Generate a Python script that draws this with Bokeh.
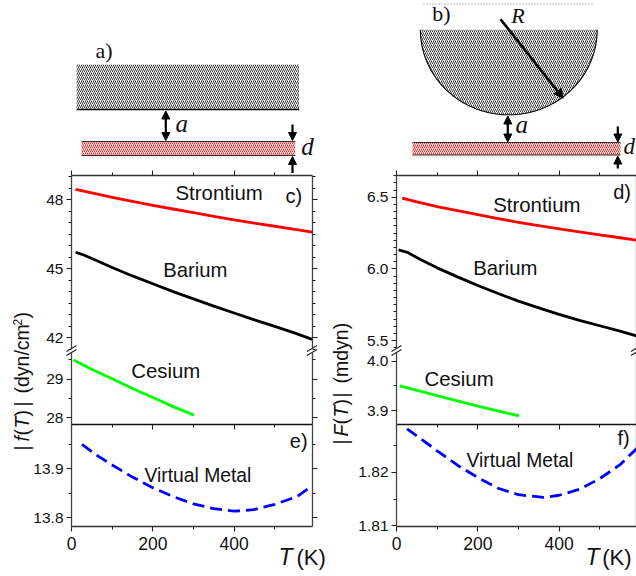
import numpy as np
from bokeh.core.properties import value
from bokeh.embed import file_html
from bokeh.models import Arrow, FixedTicker, LinearAxis, NormalHead, NumeralTickFormatter, Range1d
from bokeh.plotting import figure
from bokeh.resources import INLINE

# ---- data ----
c_strontium_t = [10, 50, 100, 150, 200, 250, 300, 350, 400, 450, 500, 550, 592]
c_strontium_v = [48.45, 48.30, 48.11, 47.93, 47.76, 47.60, 47.44, 47.28, 47.13, 46.99, 46.85, 46.71, 46.59]
c_barium_t = [10, 30, 60, 100, 150, 200, 250, 300, 350, 400, 450, 500, 550, 592]
c_barium_v = [45.72, 45.60, 45.37, 45.06, 44.69, 44.35, 44.01, 43.69, 43.38, 43.08, 42.78, 42.5, 42.2, 41.93]
c_cesium_t = [5, 47, 104, 150, 202, 250, 301]
c_cesium_v = [29.50, 29.27, 28.99, 28.76, 28.52, 28.29, 28.07]
e_virtual_t = [26, 60, 96, 150, 200, 250, 300, 350, 400, 448, 500, 555, 592]
e_virtual_v = [13.95, 13.929, 13.91, 13.883, 13.861, 13.843, 13.828, 13.818, 13.813, 13.816, 13.827, 13.843, 13.865]

d_strontium_t = [14, 50, 100, 150, 200, 250, 300, 350, 400, 450, 500, 550, 592]
d_strontium_v = [6.493, 6.468, 6.435, 6.406, 6.379, 6.351, 6.325, 6.301, 6.279, 6.258, 6.237, 6.217, 6.199]
d_barium_t = [5, 27, 60, 100, 150, 200, 250, 300, 350, 400, 450, 500, 550, 592]
d_barium_v = [6.133, 6.115, 6.063, 6.007, 5.944, 5.884, 5.828, 5.775, 5.728, 5.682, 5.641, 5.603, 5.565, 5.531]
d_cesium_t = [8, 100, 200, 302]
d_cesium_v = [3.950, 3.930, 3.909, 3.889]
f_virtual_t = [26, 60, 100, 150, 200, 250, 300, 362, 400, 450, 500, 550, 592]
f_virtual_v = [1.8281, 1.8262, 1.8240, 1.8213, 1.8190, 1.8170, 1.8158, 1.8153, 1.8157, 1.8168, 1.8188, 1.8214, 1.8245]

x_major = [0, 200, 400]
x_minor = [100, 300, 500]
c_major = [42, 45, 48]
c_minor = [41.5, 42.5, 43, 43.5, 44, 44.5, 45.5, 46, 46.5, 47, 47.5, 48.5, 49]
cl_major = [28, 29]
cl_minor = [28.5, 29.5]
e_major = [13.8, 13.9]
e_minor = [13.85, 13.95]
d_major = [5.5, 6.0, 6.5]
d_minor = [5.45, 5.55, 5.6, 5.65, 5.7, 5.75, 5.8, 5.85, 5.9, 5.95, 6.05, 6.1, 6.15, 6.2, 6.25, 6.3, 6.35, 6.4, 6.45, 6.55, 6.6, 6.65]
dl_major = [3.9, 4.0]
dl_minor = [3.95]
f_major = [1.81, 1.82]
f_minor = [1.815, 1.825]

W, H = 636, 576
SANS = "Liberation Sans"
SERIF = "Liberation Serif"
RED, BLUE, GREEN, INK = "#ff0000", "#0000ff", "#00ff00", "#000000"

p = figure(width=W, height=H, x_range=(0, W), y_range=(H, 0), min_border=0,
           x_axis_type=None, y_axis_type=None, outline_line_color=None,
           output_backend="svg", toolbar_location=None, margin=(0, 0, 0, 0))
p.grid.visible = False


def calibrate(v0, px0, v1, px1, a, b):
    k = (v1 - v0) / (px1 - px0)
    return Range1d(start=v0 + (a - px0) * k, end=v0 + (b - px0) * k)


p.extra_x_ranges = {
    "tl": calibrate(0, 71, 200, 152.3, 0, W),
    "tr": calibrate(0, 396, 200, 477.3, 0, W),
}
p.extra_y_ranges = {
    "c": calibrate(48, 199.3, 42, 337.3, H, 0),
    "cl": calibrate(29, 378.7, 28, 417.3, H, 0),
    "e": calibrate(13.9, 468.3, 13.8, 517, H, 0),
    "d": calibrate(6.5, 196.7, 5.5, 340, H, 0),
    "dl": calibrate(4.0, 360.7, 3.9, 410, H, 0),
    "f": calibrate(1.82, 471.7, 1.81, 525.3, H, 0),
}


def invert_y(name, px):
    r = p.extra_y_ranges[name]
    return r.start + (H - px) * (r.end - r.start) / H


def invert_x(name, px):
    r = p.extra_x_ranges[name]
    return r.start + px * (r.end - r.start) / W


def style(ax, labels=False, size="15.5px", fmt=None, color="#444444", width=1.3, standoff=3):
    ax.axis_line_color = color
    ax.axis_line_width = width
    ax.major_tick_line_color = "#222222"
    ax.minor_tick_line_color = "#222222"
    ax.major_tick_line_width = 1.1
    ax.minor_tick_line_width = 1
    ax.major_tick_in = 0
    ax.major_tick_out = 5
    ax.minor_tick_in = 0
    ax.minor_tick_out = 3
    ax.major_label_standoff = standoff
    ax.major_label_text_font = SANS
    ax.major_label_text_font_size = size
    ax.major_label_text_color = "#111111" if labels else None
    if fmt:
        ax.formatter = NumeralTickFormatter(format=fmt)


def y_axes(rng, xname, left_px, right_px, top_px, bot_px, major, minor, fmt):
    bounds = (invert_y(rng, bot_px), invert_y(rng, top_px))
    for side, loc, lab in (("left", left_px, True), ("right", right_px, False)):
        ax = LinearAxis(y_range_name=rng, fixed_location=loc, bounds=bounds,
                        ticker=FixedTicker(ticks=major, minor_ticks=minor))
        style(ax, labels=lab, fmt=fmt)
        p.add_layout(ax, side)


def x_axis(name, side, loc, labels, left_px, right_px, color="#333333", width=1.3):
    bounds = (invert_x(name, left_px), invert_x(name, right_px))
    ax = LinearAxis(x_range_name=name, fixed_location=loc, bounds=bounds,
                    ticker=FixedTicker(ticks=x_major, minor_ticks=x_minor))
    style(ax, labels=labels, size="17.5px", color=color, width=width, standoff=5)
    p.add_layout(ax, side)


TOP, BREAK_HI, BREAK_LO, MID, BOT = 175, 348, 352, 424, 526
for xname, L, R, sets in (
    ("tl", 71, 311.5, (("c", c_major, c_minor, "0"), ("cl", cl_major, cl_minor, "0"), ("e", e_major, e_minor, "0.0"))),
    ("tr", 396, 635.5, (("d", d_major, d_minor, "0.0"), ("dl", dl_major, dl_minor, "0.0"), ("f", f_major, f_minor, "0.00"))),
):
    bands = ((TOP, BREAK_HI), (BREAK_LO, MID), (MID, BOT))
    for (rng, maj, mnr, fmt), (t, b) in zip(sets, bands):
        y_axes(rng, xname, L, R, t, b, maj, mnr, fmt)
    x_axis(xname, "above", TOP, False, L, R)
    x_axis(xname, "below", MID, False, L, R, color="#111111", width=1.6)
    x_axis(xname, "below", BOT, True, L, R)
    for bx in (L, R):
        for dy in (-2, 2):
            p.line([bx - 5, bx + 5], [350 + dy + 3, 350 + dy - 3], line_color="#222222", line_width=1.1)

# ---- curves ----
for xn, yn, t, v, col, dash in (
    ("tl", "c", c_strontium_t, c_strontium_v, RED, "solid"),
    ("tl", "c", c_barium_t, c_barium_v, INK, "solid"),
    ("tl", "cl", c_cesium_t, c_cesium_v, GREEN, "solid"),
    ("tl", "e", e_virtual_t, e_virtual_v, BLUE, "12 6"),
    ("tr", "d", d_strontium_t, d_strontium_v, RED, "solid"),
    ("tr", "d", d_barium_t, d_barium_v, INK, "solid"),
    ("tr", "dl", d_cesium_t, d_cesium_v, GREEN, "solid"),
    ("tr", "f", f_virtual_t, f_virtual_v, BLUE, "12 6"),
):
    p.line(t, v, x_range_name=xn, y_range_name=yn, line_color=col, line_width=2.8, line_dash=dash,
           line_join="round")

# ---- schematics (in canvas units) ----
HATCH = dict(hatch_pattern="right_diagonal_line", hatch_scale=4, hatch_weight=0.9)
p.quad(left=[76], right=[298.7], top=[64], bottom=[109], fill_color="white", line_color=None,
       hatch_color="#222222", **HATCH)
p.line([76, 298.7], [109, 109], line_color=INK, line_width=1.4)

for x0, x1, y0, y1 in ((81, 294.7, 141, 155), (412, 620, 142, 154.5)):
    p.quad(left=[x0], right=[x1], top=[y0], bottom=[y1], fill_color="white", line_color=None,
           hatch_color=RED, **HATCH)
    p.line([x0, x1], [y0, y0], line_color="#333333", line_width=1.2)
    p.line([x0, x1], [y1, y1], line_color="#333333", line_width=1.2)

theta = np.linspace(0, np.pi, 120)
arc_x = 508.3 + 88.4 * np.cos(theta)
arc_y = 29.3 + 85 * np.sin(theta)
p.patch(arc_x, arc_y, fill_color="white", line_color=None, hatch_color="#222222", **HATCH)
p.line(arc_x, arc_y, line_color=INK, line_width=1.1)
p.line([423, 593], [3.5, 3.5], line_color="#555555", line_width=0.8, line_dash="1 2")


def arrow(x0, y0, x1, y1, both=False, size=8, width=2.2):
    head = lambda: NormalHead(size=size, fill_color=INK, line_color=INK, line_width=1)
    p.add_layout(Arrow(end=head(), start=head() if both else None, x_start=x0, y_start=y0,
                       x_end=x1, y_end=y1, line_color=INK, line_width=width))


arrow(165.3, 110.5, 165.3, 140, both=True)
arrow(507.3, 115.5, 507.3, 141.5, both=True)
arrow(292, 124, 292, 140)
arrow(292, 172.5, 292, 156)
arrow(617.3, 126, 617.3, 141.5)
arrow(617.3, 168, 617.3, 155.5)
arrow(500, 18.7, 562.7, 97.7, size=9, width=2.6)

# ---- texts ----
MID_UP = 0.35  # distance from baseline to the vertical middle of a line, in em


def text(x, y, s, font=SANS, size=19.5, style_="normal", angle=0.0, color="#111111"):
    if angle:
        x = x - MID_UP * size
    else:
        y = y - MID_UP * size
    p.text([x], [y], text=[s], text_font=value(font), text_font_size=f"{size}px",
           text_font_style=style_, angle=angle, text_color=color,
           text_baseline="middle", text_align="left")


for x, y, s, sz in ((175, 200, "Strontium", 20.4), (162.7, 276.7, "Barium", 20.3), (130.7, 378, "Cesium", 20.4),
                    (144, 482, "Virtual Metal", 19.3), (285, 202, "c)", 20), (289.3, 447, "e)", 20),
                    (492.7, 211.7, "Strontium", 20.4), (472.7, 275, "Barium", 20.3), (424, 385.7, "Cesium", 20.4),
                    (466, 466.7, "Virtual Metal", 19.3), (612.7, 198, "d)", 20), (617, 444, "f)", 20)):
    text(x, y, s, size=sz)

for x, y, s, st, sz in ((95, 58, "a)", "normal", 22), (431.7, 20.7, "b)", "normal", 22),
                        (175, 131.6, "a", "italic", 25), (515, 132.3, "a", "italic", 25),
                        (300.7, 155, "d", "italic", 25), (623, 154, "d", "italic", 23),
                        (510.7, 23, "R", "italic", 22)):
    text(x, y, s, font=SERIF, size=sz, style_=st)

for tx, kx in ((278, 296), (585, 601.7)):
    text(tx, 565, "T", size=23, style_="italic")
    text(kx, 565, "(K)", size=22)

UP = np.pi / 2
for x, y, s, st, sz in ((28, 450, "|", "normal", 19.5), (28, 441, "f", "italic", 19.5), (28, 435, "(", "normal", 19.5),
                        (28, 428, "T", "italic", 19.5), (28, 416, ")", "normal", 19.5), (28, 406, "|", "normal", 19.5),
                        (28, 393, "(dyn/cm", "normal", 19.5), (21, 325, "2", "normal", 12), (28, 318, ")", "normal", 19.5)):
    text(x, y, s, size=sz, style_=st, angle=UP)
for x, y, s, st, sz in ((347, 444, "|", "normal", 19.5), (347, 436, "F", "italic", 19.5), (347, 424, "(", "normal", 19.5),
                        (347, 417, "T", "italic", 19.5), (347, 405, ")", "normal", 19.5), (347, 397, "|", "normal", 19.5),
                        (347, 383, "(mdyn)", "normal", 19.5)):
    text(x, y, s, size=sz, style_=st, angle=UP)

open("out.html", "w").write(file_html(p, INLINE))
